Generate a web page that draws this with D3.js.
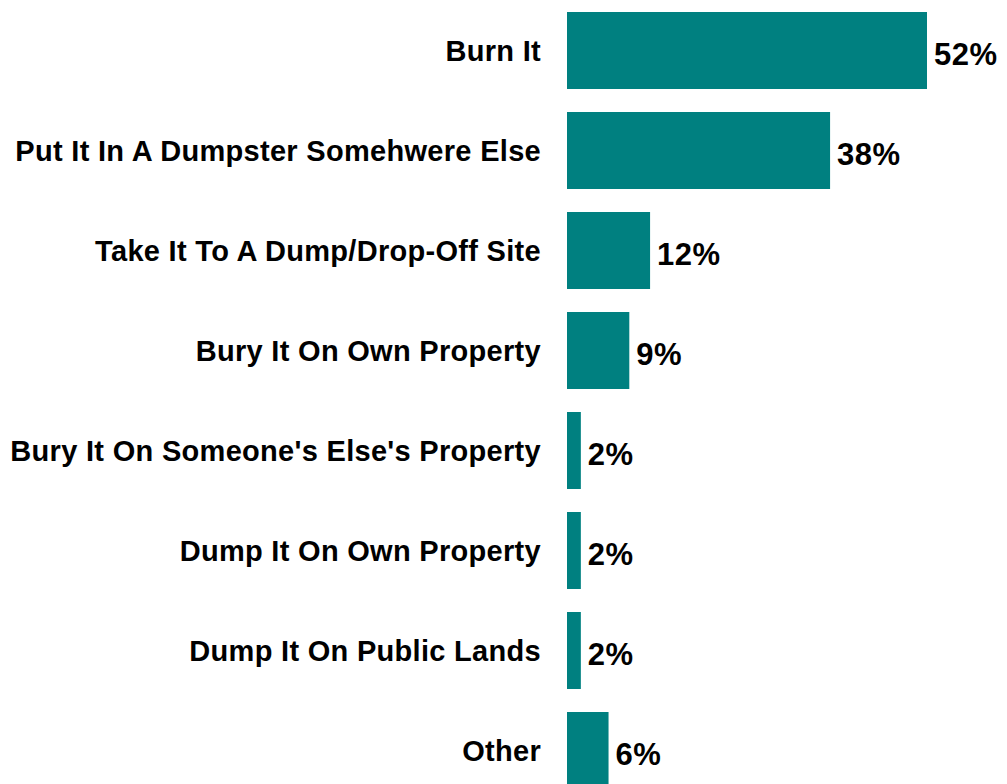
<!DOCTYPE html>
<html>
<head>
<meta charset="utf-8">
<script src="https://cdn.jsdelivr.net/npm/d3@7"></script>
<style>
  html, body { margin: 0; padding: 0; background: #fff; }
  svg { display: block; }
  text { font-family: "Liberation Sans", Arial, sans-serif; font-weight: bold; fill: #000; }
</style>
</head>
<body>
<svg id="chart" width="1007" height="784"></svg>
<script>
const categories = [
  "Burn It",
  "Put It In A Dumpster Somehwere Else",
  "Take It To A Dump/Drop-Off Site",
  "Bury It On Own Property",
  "Bury It On Someone's Else's Property",
  "Dump It On Own Property",
  "Dump It On Public Lands",
  "Other"
];
const values = [52, 38, 12, 9, 2, 2, 2, 6];
const valueLabels = ["52%", "38%", "12%", "9%", "2%", "2%", "2%", "6%"];

const data = categories.map((c, i) => ({ cat: c, value: values[i], label: valueLabels[i] }));

const svg = d3.select("#chart");

const x = d3.scaleLinear().domain([0, 52]).range([567, 927]);
const y = d3.scaleBand().domain(categories).range([12, 789]).paddingInner(0.23).paddingOuter(0);

svg.selectAll("rect.bar")
  .data(data)
  .join("rect")
  .attr("class", "bar")
  .attr("x", x(0))
  .attr("y", d => y(d.cat))
  .attr("width", d => x(d.value) - x(0))
  .attr("height", y.bandwidth())
  .attr("fill", "#008080");

svg.selectAll("text.cat")
  .data(data)
  .join("text")
  .attr("class", "cat")
  .attr("x", 541)
  .attr("y", d => y(d.cat) + y.bandwidth() / 2)
  .attr("dy", "0.36em")
  .attr("text-anchor", "end")
  .style("font-size", "29px")
  .style("letter-spacing", "0.3px")
  .text(d => d.cat);

svg.selectAll("text.val")
  .data(data)
  .join("text")
  .attr("class", "val")
  .attr("x", d => x(d.value) + 7)
  .attr("y", d => y(d.cat) + y.bandwidth() / 2 + 3)
  .attr("dy", "0.36em")
  .attr("text-anchor", "start")
  .style("font-size", "31px")
  .style("letter-spacing", "0.5px")
  .text(d => d.label);
</script>
</body>
</html>
